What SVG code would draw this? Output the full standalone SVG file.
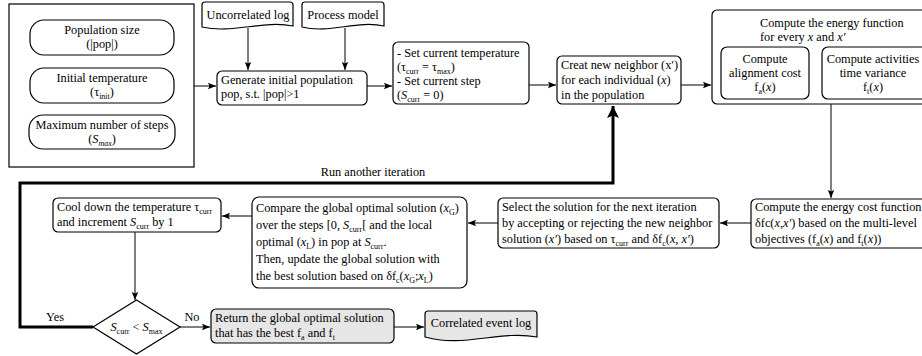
<svg xmlns="http://www.w3.org/2000/svg" width="922" height="356" viewBox="0 0 922 356" font-family="'Liberation Serif', 'Times New Roman', 'DejaVu Serif', serif">
<style>
text{font-family:"Liberation Serif","Times New Roman","DejaVu Serif",serif}
.t{font-size:12.3px;fill:#000}
.m{text-anchor:middle}
.i{font-style:italic}
.s{font-size:8px}
.box{fill:#fff;stroke:#000;stroke-width:1.2}
.gray{fill:#e6e6e6}
.ln{fill:none;stroke:#000;stroke-width:1}
.thick{stroke-width:3}
</style>
<defs>
<marker id="ah" markerUnits="userSpaceOnUse" markerWidth="10" markerHeight="8" refX="8" refY="4" orient="auto">
<path d="M0,0.8 L8,4 L0,7.2 L1.5,4 Z" fill="#000"/>
</marker>
<marker id="ahb" markerUnits="userSpaceOnUse" markerWidth="14" markerHeight="12" refX="12" refY="6" orient="auto">
<path d="M0,0 L12,6 L0,12 L2.5,6 Z" fill="#000"/>
</marker>
</defs>
<g id="connectors">
<path class="ln" d="M194,86 H216" marker-end="url(#ah)"/>
<path class="ln" d="M248,28 V70" marker-end="url(#ah)"/>
<path class="ln" d="M345,28 V70" marker-end="url(#ah)"/>
<path class="ln" d="M367,86 H392" marker-end="url(#ah)"/>
<path class="ln" d="M529,85 H556" marker-end="url(#ah)"/>
<path class="ln" d="M681,85 H711" marker-end="url(#ah)"/>
<path class="ln" d="M831,104 V198" marker-end="url(#ah)"/>
<path class="ln" d="M751,223 H720" marker-end="url(#ah)"/>
<path class="ln" d="M498,223 H468" marker-end="url(#ah)"/>
<path class="ln" d="M252,216 H222" marker-end="url(#ah)"/>
<path class="ln" d="M135,232 V300" marker-end="url(#ah)"/>
<path class="ln" d="M180,327 H210" marker-end="url(#ah)"/>
<path class="ln" d="M394,327 H424" marker-end="url(#ah)"/>
<path class="ln thick" d="M93,327 H20 V183 H613 V106" marker-end="url(#ahb)"/>
<text class="t m" x="373" y="176">Run another iteration</text>
<text class="t m" x="55" y="321">Yes</text>
<text class="t m" x="192" y="321">No</text>
</g>
<g id="params">
<rect x="9" y="4" width="185" height="163" fill="#fff" stroke="#000" stroke-width="1.2"/>
</g>
<g id="pop-size">
<rect class="box" x="30" y="20" width="144" height="35" rx="14"/>
<text class="t m" x="102" y="34">Population size</text>
<text class="t m" x="102" y="48">(|pop|)</text>
</g>
<g id="init-temp">
<rect class="box" x="30" y="68" width="144" height="35" rx="14"/>
<text class="t m" x="102" y="82">Initial temperature</text>
<text class="t m" x="102" y="96">(τ<tspan class="s" dy="2.5">init</tspan><tspan dy="-2.5">)</tspan></text>
</g>
<g id="max-steps">
<rect class="box" x="29" y="115" width="146" height="34" rx="14"/>
<text class="t m" x="102" y="129">Maximum number of steps</text>
<text class="t m" x="102" y="143">(<tspan class="i">S</tspan><tspan class="s i" dy="2.5">max</tspan><tspan dy="-2.5">)</tspan></text>
</g>
<g id="uncorrelated-log">
<path class="box" d="M205,2 H290 Q293,2 293,5 V26 C263,20 232,34 202,27 V5 Q202,2 205,2 Z"/>
<text class="t m" x="248" y="19">Uncorrelated log</text>
</g>
<g id="process-model">
<path class="box" d="M305,2 H381 Q384,2 384,5 V26 C357,20 329,34 302,27 V5 Q302,2 305,2 Z"/>
<text class="t m" x="343" y="19">Process model</text>
</g>
<g id="generate">
<rect class="box" x="217" y="71" width="150" height="34" rx="5"/>
<text class="t" x="221" y="84">Generate initial population</text>
<text class="t" x="221" y="98">pop, s.t. |pop|&gt;1</text>
</g>
<g id="set-current">
<rect class="box" x="393" y="42" width="136" height="62" rx="5"/>
<text class="t" x="397" y="57">- Set current temperature</text>
<text class="t" x="397" y="71">(τ<tspan class="s" dy="2.5">curr</tspan><tspan dy="-2.5"> = τ</tspan><tspan class="s" dy="2.5">max</tspan><tspan dy="-2.5">)</tspan></text>
<text class="t" x="397" y="85">- Set current step</text>
<text class="t" x="397" y="99">(<tspan class="i">S</tspan><tspan class="s" dy="2.5">curr</tspan><tspan dy="-2.5"> = 0)</tspan></text>
</g>
<g id="create-neighbor">
<rect class="box" x="557" y="56" width="124" height="48" rx="5"/>
<text class="t" x="561" y="69">Creat new neighbor (x′)</text>
<text class="t" x="561" y="84">for each individual (<tspan class="i">x</tspan>)</text>
<text class="t" x="561" y="99">in the population</text>
</g>
<g id="energy-function">
<rect class="box" x="712" y="10" width="240" height="94" rx="5"/>
<text class="t" x="760" y="27">Compute the energy function</text>
<text class="t" x="760" y="41">for every <tspan class="i">x</tspan> and <tspan class="i">x′</tspan></text>
</g>
<g id="alignment-cost">
<rect class="box" x="721" y="47" width="88" height="52" rx="6"/>
<text class="t m" x="765" y="63">Compute</text>
<text class="t m" x="765" y="77">alignment cost</text>
<text class="t m" x="765" y="91">f<tspan class="s" dy="2.5">a</tspan><tspan dy="-2.5">(</tspan><tspan class="i">x</tspan>)</text>
</g>
<g id="time-variance">
<rect class="box" x="822" y="47" width="110" height="52" rx="6"/>
<text class="t m" x="873" y="63">Compute activities</text>
<text class="t m" x="873" y="77">time variance</text>
<text class="t m" x="873" y="91">f<tspan class="s" dy="2.5">t</tspan><tspan dy="-2.5">(</tspan><tspan class="i">x</tspan>)</text>
</g>
<g id="energy-cost">
<rect class="box" x="751" y="199" width="200" height="49" rx="5"/>
<text class="t" x="755" y="211">Compute the energy cost function</text>
<text class="t" x="755" y="227">δfc(<tspan class="i">x</tspan>,<tspan class="i">x′</tspan>) based on the multi-level</text>
<text class="t" x="755" y="243">objectives (f<tspan class="s" dy="2.5">a</tspan><tspan dy="-2.5">(</tspan><tspan class="i">x</tspan>) and f<tspan class="s" dy="2.5">t</tspan><tspan dy="-2.5">(</tspan><tspan class="i">x</tspan>))</text>
</g>
<g id="select">
<rect class="box" x="498" y="198" width="221" height="50" rx="5"/>
<text class="t" x="502" y="211">Select the solution for the next iteration</text>
<text class="t" x="502" y="227">by accepting or rejecting the new neighbor</text>
<text class="t" x="502" y="243">solution (<tspan class="i">x′</tspan>) based on τ<tspan class="s" dy="2.5">curr</tspan><tspan dy="-2.5"> and  δf</tspan><tspan class="s" dy="2.5">c</tspan><tspan dy="-2.5">(</tspan><tspan class="i">x</tspan>, <tspan class="i">x′</tspan>)</text>
</g>
<g id="compare">
<rect class="box" x="252" y="197" width="215" height="91" rx="7"/>
<text class="t" x="256" y="212">Compare the global optimal solution (<tspan class="i">x</tspan><tspan class="s" dy="2.5">G</tspan><tspan dy="-2.5">)</tspan></text>
<text class="t" x="256" y="229">over the steps [0, <tspan class="i">S</tspan><tspan class="s" dy="2.5">curr</tspan><tspan dy="-2.5">[ and the local</tspan></text>
<text class="t" x="256" y="246">optimal (<tspan class="i">x</tspan><tspan class="s" dy="2.5">L</tspan><tspan dy="-2.5">) in pop at </tspan><tspan class="i">S</tspan><tspan class="s" dy="2.5">curr</tspan><tspan dy="-2.5">.</tspan></text>
<text class="t" x="256" y="263">Then, update the global solution with</text>
<text class="t" x="256" y="280">the best solution based on δf<tspan class="s" dy="2.5">c</tspan><tspan dy="-2.5">(</tspan><tspan class="i">x</tspan><tspan class="s" dy="2.5">G</tspan><tspan dy="-2.5">;</tspan><tspan class="i">x</tspan><tspan class="s" dy="2.5">L</tspan><tspan dy="-2.5">)</tspan></text>
</g>
<g id="cool-down">
<rect class="box" x="53" y="198" width="168" height="34" rx="5"/>
<text class="t" x="57" y="211">Cool down the temperature τ<tspan class="s" dy="2.5">curr</tspan></text>
<text class="t" x="57" y="226">and increment <tspan class="i">S</tspan><tspan class="s" dy="2.5">curr</tspan><tspan dy="-2.5"> by 1</tspan></text>
</g>
<g id="decision">
<path class="box" d="M136.5,300 L180,327 L136.5,354 L93,327 Z"/>
<text class="t m" x="136.5" y="331"><tspan class="i">S</tspan><tspan class="s" dy="2.5">curr</tspan><tspan dy="-2.5"> &lt; </tspan><tspan class="i">S</tspan><tspan class="s" dy="2.5">max</tspan></text>
</g>
<g id="return">
<rect class="box gray" x="211" y="309" width="183" height="34" rx="5"/>
<text class="t" x="215" y="322">Return the global optimal solution</text>
<text class="t" x="215" y="337">that has the best f<tspan class="s" dy="2.5">a</tspan><tspan dy="-2.5"> and f</tspan><tspan class="s" dy="2.5">t</tspan></text>
</g>
<g id="correlated-log">
<path class="box gray" d="M428,311 H534 Q537,311 537,314 V337 C500,330 463,348 425,337 V314 Q425,311 428,311 Z"/>
<text class="t m" x="481" y="327">Correlated event log</text>
</g>
</svg>
